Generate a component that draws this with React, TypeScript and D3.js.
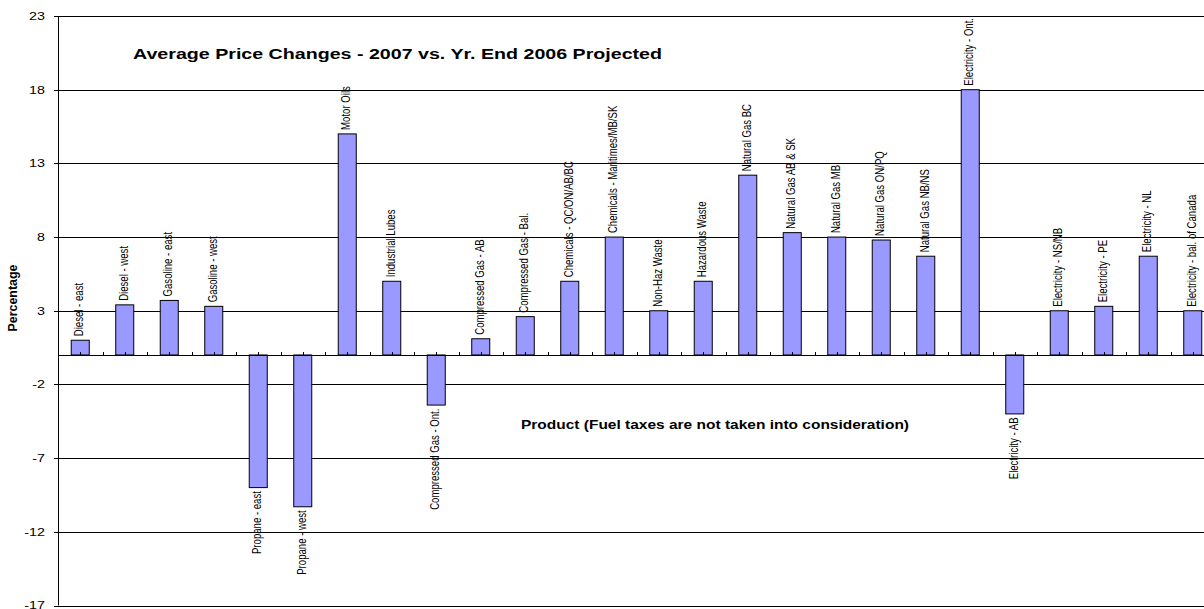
import React from "react";
import * as d3 from "d3";

const categories: string[] = [
  "Diesel - east",
  "Diesel - west",
  "Gasoline - east",
  "Gasoline - west",
  "Propane - east",
  "Propane - west",
  "Motor Oils",
  "Industrial Lubes",
  "Compressed Gas - Ont.",
  "Compressed Gas - AB",
  "Compressed Gas - Bal.",
  "Chemicals - QC/ON/AB/BC",
  "Chemicals - Maritimes/MB/SK",
  "Non-Haz Waste",
  "Hazardous Waste",
  "Natural Gas BC",
  "Natural Gas AB & SK",
  "Natural Gas MB",
  "Natural Gas ON/PQ",
  "Natural Gas NB/NS",
  "Electricity - Ont.",
  "Electricity - AB",
  "Electricity - NS/NB",
  "Electricity - PE",
  "Electricity - NL",
  "Electricity - bal. of Canada",
];

const values: number[] = [
  1.0, 3.4, 3.7, 3.3, -9.0, -10.3, 15.0, 5.0, -3.4, 1.1, 2.6, 5.0, 8.0, 3.0,
  5.0, 12.2, 8.3, 8.0, 7.8, 6.7, 18.0, -4.0, 3.0, 3.3, 6.7, 3.0,
];

const yTicks: number[] = [23, 18, 13, 8, 3, -2, -7, -12, -17];

const title = "Average Price Changes - 2007 vs. Yr. End 2006 Projected";
const xTitle = "Product (Fuel taxes are not taken into consideration)";
const yTitle = "Percentage";

const W = 1204;
const H = 609;
const left = 58;
const top = 16;
const bottom = 605.5;
const step = 44.5;
const FONT = "'Liberation Sans', Arial, sans-serif";
const SX = 1.3;

export default function App() {
  const x = d3
    .scaleBand<string>()
    .domain(categories)
    .range([left, left + step * categories.length])
    .paddingInner(0.595)
    .paddingOuter(0.2975);
  const y = d3.scaleLinear().domain([-17, 23]).range([bottom, top]);
  const y0 = y(0);
  const bw = x.bandwidth();

  const tickXs: number[] = [];
  for (let i = 0; i <= categories.length * 2; i++) {
    tickXs.push(left + (i * step) / 2);
  }

  return (
    <svg
      width={W}
      height={H}
      style={{ position: "absolute", left: 0, top: 0, background: "#fff" }}
      fontFamily={FONT}
    >
      <rect x={0} y={0} width={W} height={H} fill="#fff" />
      {/* gridlines */}
      {yTicks.map((t) => (
        <line
          key={"g" + t}
          x1={left}
          x2={W}
          y1={Math.round(y(t)) + 0.5}
          y2={Math.round(y(t)) + 0.5}
          stroke="#000"
          strokeWidth={1}
        />
      ))}
      {/* y axis */}
      <line
        x1={left + 0.5}
        x2={left + 0.5}
        y1={top}
        y2={bottom}
        stroke="#000"
        strokeWidth={1}
      />
      {yTicks.map((t) => (
        <g key={"yt" + t}>
          <line
            x1={left - 4}
            x2={left}
            y1={Math.round(y(t)) + 0.5}
            y2={Math.round(y(t)) + 0.5}
            stroke="#000"
          />
          <text
            transform={`translate(45,${y(t)}) scale(${SX},1)`}
            textAnchor="end"
            dominantBaseline="central"
            fontSize={11}
            fill="#000"
          >
            {t}
          </text>
        </g>
      ))}
      {/* bars */}
      {categories.map((c, i) => {
        const v = values[i];
        const yv = y(v);
        return (
          <rect
            key={"b" + c}
            x={(x(c) as number)}
            y={Math.min(yv, y0)}
            width={bw}
            height={Math.abs(y0 - yv)}
            fill="#9999FF"
            stroke="#000"
            strokeWidth={1}
          />
        );
      })}
      {/* zero axis */}
      <line
        x1={left}
        x2={W}
        y1={Math.round(y0) + 0.5}
        y2={Math.round(y0) + 0.5}
        stroke="#000"
        strokeWidth={1}
      />
      {tickXs.map((tx, i) => (
        <line
          key={"xt" + i}
          x1={Math.round(tx) + 0.5}
          x2={Math.round(tx) + 0.5}
          y1={Math.round(y0) - 3}
          y2={Math.round(y0) + 0.5}
          stroke="#000"
        />
      ))}
      {/* bar labels */}
      {categories.map((c, i) => {
        const v = values[i];
        const cx = (x(c) as number) + bw / 2;
        const yv = y(v);
        const pos = v >= 0;
        const ty = pos ? yv - 4 : yv + 3.5;
        return (
          <text
            key={"l" + c}
            transform={`translate(${cx + 3},${ty}) scale(${SX},1) rotate(-90)`}
            textAnchor={pos ? "start" : "end"}
            fontSize={9.6}
            fill="#000"
          >
            {c}
          </text>
        );
      })}
      {/* titles */}
      <text
        x={133}
        y={58.5}
        fontSize={14.5}
        fontWeight="bold"
        textLength={529}
        lengthAdjust="spacingAndGlyphs"
        fill="#000"
      >
        {title}
      </text>
      <text
        x={521}
        y={429}
        fontSize={13.5}
        fontWeight="bold"
        textLength={388}
        lengthAdjust="spacingAndGlyphs"
        fill="#000"
      >
        {xTitle}
      </text>
      <text
        transform={`translate(16.5,298) scale(1.1,1) rotate(-90)`}
        textAnchor="middle"
        fontSize={12.4}
        fontWeight="bold"
        fill="#000"
      >
        {yTitle}
      </text>
    </svg>
  );
}
